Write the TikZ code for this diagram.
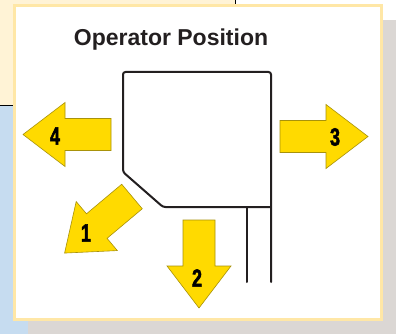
\documentclass[tikz,border=0pt]{standalone}
\usepackage{fontspec}
\setmainfont{Liberation Sans}
\newfontfamily\numfont[FakeStretch=0.72, FakeBold=2]{Liberation Sans Bold}
\usetikzlibrary{positioning}

\definecolor{creambg}{HTML}{FFF3D6}
\definecolor{bluebg}{HTML}{C6DCF0}
\definecolor{graybg}{HTML}{DBD7D4}
\definecolor{panelrim}{HTML}{FFE7A6}
\definecolor{arrowfill}{HTML}{FFDA00}
\definecolor{arrowrim}{HTML}{A8920A}
\definecolor{inkdark}{HTML}{231F20}

\tikzset{
  machine/.style={line width=2pt, inkdark, line cap=round},
  numlabel/.style={font=\numfont\fontsize{25}{25}\selectfont, text=black, inner sep=0pt},
  title/.style={font=\bfseries\fontsize{23}{27}\selectfont, text=inkdark, inner sep=0pt},
  movearrow/.pic={
    \filldraw[fill=arrowfill, draw=arrowrim, line width=0.6pt, line join=miter]
      (0,-16) -- (46,-16) -- (46,-32) -- (88,0) -- (46,32) -- (46,16) -- (0,16) -- cycle;
  },
}

\begin{document}
\begin{tikzpicture}[x=1pt, y=-1pt]
  \useasboundingbox (0,0) rectangle (396,334);

  % Page background pieces
  \fill[graybg] (28,20) rectangle (396,334);
  \fill[creambg] (0,0) rectangle (235,105);
  \draw[black, line width=1pt] (0,105.5) -- (235,105.5) (235,0) -- (235,105.5);
  \fill[bluebg] (0,106) rectangle (28,334);

  % Panel
  \filldraw[fill=white, draw=panelrim, line width=3pt] (14.5,5.5) rectangle (381.5,319.5);

  % Title
  \node[title, anchor=base] (title) at (171,46) {Operator Position};

  % Machine outline (top view)
  \draw[machine, rounded corners=2.5pt]
    (271,282) -- (271,72) -- (123,72) -- (123,172) -- (163,207) -- (271,207);
  \draw[machine] (247,207) -- (247,282);

  % Arrows
  \pic[rotate=180] at (111,134.5) {movearrow};
  \pic at (280,136.5) {movearrow};
  \pic[rotate=-90] at (199,220) {movearrow};
  \pic[rotate=220] at (132,196.5) {movearrow};

  % Arrow numbers
  \node[numlabel] (four) at (55,136) {4};
  \node[numlabel] (three) at (335,137) {3};
  \node[numlabel] (two) at (197,278) {2};
  \node[numlabel] (one) at (86,233) {1};
\end{tikzpicture}
\end{document}
